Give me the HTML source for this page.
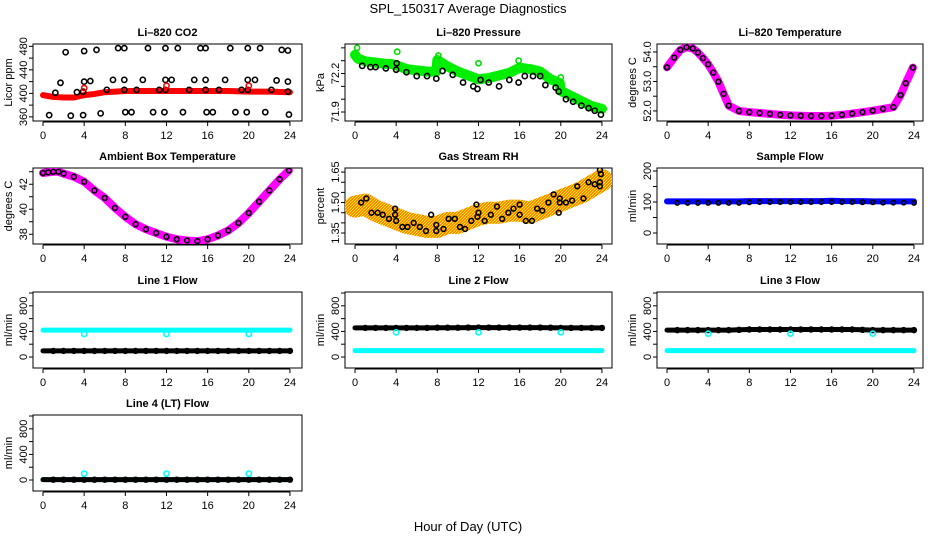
<!DOCTYPE html>
<html><head><meta charset="utf-8"><style>
html,body{margin:0;padding:0;background:#fff;}
svg{display:block;font-family:"Liberation Sans",Arial,sans-serif;}
</style></head><body>
<svg id="chart" width="936" height="540" viewBox="0 0 936 540" xmlns="http://www.w3.org/2000/svg">
<defs><pattern id="rhpat" width="3" height="3" patternUnits="userSpaceOnUse"><rect width="3" height="3" fill="#ff8800"/><rect width="1" height="1" fill="#ffee00"/><rect x="2" y="1" width="1" height="1" fill="#ffee00"/><rect x="1" y="2" width="1" height="1" fill="#ffee00"/></pattern></defs>
<text x="468" y="13" text-anchor="middle" font-size="13">SPL_150317  Average Diagnostics</text>
<text x="468" y="531" text-anchor="middle" font-size="13">Hour of Day (UTC)</text>
</svg>
<script>
// ---- data ----
const xTicks=[0,4,8,12,16,20,24];
const co2BandHours=[0,1,2,3,4,5,6,7,8,10,12,14,16,18,20,22,24];
const co2BandVals=[397,394,393,393,397,399,402,403,404,404,404,404,404,404,403,403,402];
const co2PtHours=[2.2,4.0,5.2,7.3,7.9,10.2,11.9,13.1,15.3,15.8,18.2,19.9,21.1,23.2,23.8,1.7,4.0,4.6,6.8,7.9,9.7,11.9,12.5,14.7,15.8,17.7,19.9,20.6,22.7,23.8,1.2,3.3,3.9,6.2,7.9,9.1,11.3,11.9,14.2,15.8,17.1,19.3,19.9,22.2,23.8,0.6,2.7,3.9,5.6,8.0,8.6,10.7,11.8,13.6,15.9,16.5,18.7,19.8,21.6,23.9];
const co2PtVals=[470,472,474,477,477,477,477,477,477,477,477,477,477,474,473,418,420,421,423,423,423,423,423,423,423,423,423,423,422,420,401,402,403,406,406,406,406,406,406,406,406,406,406,406,403,363,362,363,366,368,368,368,368,368,368,368,368,368,368,364];
const co2RedHours=[4,12,20];
const co2RedVals=[409,413,413];
const presGreenHours=[0,0.3,1,2,3,3.5,4,5,6,7,7.9,8,9,10,11,12,13,14,15,16,17,18,19,19.9,20,21,22,23,24];
const presGreenVals=[72.38,72.35,72.33,72.32,72.31,72.31,72.30,72.27,72.26,72.25,72.25,72.34,72.29,72.25,72.22,72.19,72.20,72.22,72.24,72.28,72.27,72.25,72.19,72.16,72.10,72.06,72.02,71.98,71.96];
const presBlackHours=[0.7,1.5,2,3,4,4.05,5,6,7,7.9,8.5,9.5,10.5,11.5,11.9,12.2,13,14,15,15.9,16.5,17.3,18,18.5,19.5,19.8,20.5,21.2,22,22.7,23.3,23.9];
const presBlackVals=[72.26,72.25,72.25,72.24,72.23,72.28,72.21,72.18,72.18,72.16,72.22,72.19,72.13,72.10,72.08,72.15,72.13,72.10,72.15,72.13,72.18,72.18,72.18,72.11,72.09,72.06,72.00,71.98,71.95,71.93,71.91,71.88];
const presOutHours=[0.2,4.1,8.1,12.0,15.9,20.0];
const presOutVals=[72.40,72.37,72.34,72.28,72.30,72.17];
const ltHours=[0,0.7,1.3,1.9,2.5,3,3.5,4,4.5,5,5.5,6,7,8,9,10,11,12,13,14,15,16,17,18,19,20,21,22,22.7,23.2,23.9];
const ltVals=[53.48,53.81,54.07,54.16,54.12,53.98,53.79,53.58,53.30,52.99,52.58,52.18,52.00,51.96,51.93,51.90,51.87,51.85,51.84,51.83,51.83,51.84,51.87,51.91,51.96,52.01,52.07,52.13,52.54,52.94,53.47];
const abHours=[0,0.5,1,1.5,2,3,4,5,6,7,8,9,10,11,12,13,14,15,16,17,18,19,20,21,22,23,23.9];
const abVals=[42.9,42.95,43.0,43.0,42.85,42.6,42.2,41.5,40.9,40.1,39.4,38.8,38.4,38.1,37.8,37.6,37.5,37.45,37.6,37.9,38.3,38.9,39.7,40.6,41.5,42.4,43.1];
const rhBandHours=[0,1,2,3,4,5,6,7,8,9,10,11,12,13,14,15,16,17,18,19,20,21,22,23,24];
const rhBandVals=[1.48,1.49,1.46,1.44,1.42,1.40,1.39,1.38,1.38,1.40,1.40,1.42,1.44,1.45,1.45,1.46,1.46,1.45,1.47,1.49,1.51,1.53,1.55,1.58,1.61];
const rhPtHours=[0.6,1.1,1.6,2.2,2.7,3.3,3.9,3.9,4.0,4.6,5.1,5.7,6.3,6.9,7.4,7.9,7.9,8.6,9.1,9.7,10.2,10.7,11.3,11.8,11.9,12.0,12.6,13.2,13.8,14.3,14.9,15.4,16.0,16.0,16.6,17.2,17.7,18.2,18.8,19.3,19.8,19.9,19.9,20.5,21.1,21.6,22.2,22.7,23.3,23.8,23.9,23.8,23.8];
const rhPtVals=[1.50,1.52,1.45,1.45,1.44,1.42,1.44,1.47,1.41,1.38,1.38,1.40,1.38,1.36,1.44,1.39,1.36,1.37,1.42,1.42,1.38,1.37,1.41,1.49,1.43,1.45,1.41,1.44,1.48,1.42,1.45,1.47,1.49,1.44,1.41,1.41,1.47,1.46,1.50,1.54,1.45,1.52,1.50,1.50,1.51,1.58,1.52,1.60,1.59,1.66,1.64,1.60,1.58];
const hrs=[0,1,2,3,4,5,6,7,8,9,10,11,12,13,14,15,16,17,18,19,20,21,22,23,24];
const sampleBlue=[102,102,102,102,102,102,102,102,103,103,103,103,103,103,103,103,104,103,103,103,102,102,102,102,102];
const sampleBlack=[98,97,97,97,97,97,97,97,99,100,100,100,100,100,100,100,100,100,100,99,99,98,98,98,97];
const line1Cyan=[420,420,420,420,420,420,420,420,420,420,420,420,420,420,420,420,420,420,420,420,420,420,420,420,420];
const line1Black=[95,95,95,95,95,95,95,95,95,95,95,95,95,95,95,95,95,95,95,95,95,95,95,95,95];
const line2Black=[455,455,455,455,455,455,455,455,458,458,458,460,460,460,460,460,460,460,460,458,455,455,455,455,455];
const line2Cyan=[100,100,100,100,100,100,100,100,100,100,100,100,100,100,100,100,100,100,100,100,100,100,100,100,100];
const line3Black=[420,420,420,420,420,420,420,425,430,430,430,430,430,430,430,430,430,430,430,425,420,420,420,420,420];
const line3Cyan=[100,100,100,100,100,100,100,100,100,100,100,100,100,100,100,100,100,100,100,100,100,100,100,100,100];
const line4Black=[5,5,5,5,5,5,5,5,5,5,5,5,5,5,5,5,5,5,5,5,5,5,5,5,5];
const outlierHours=[4,12,20];
const line1Out=[360,360,360];
const line2Out=[385,385,385];
const line3Out=[365,365,365];
const line4Out=[100,100,100];

// ---- layout ----
const NS='http://www.w3.org/2000/svg';
const svg=document.getElementById('chart');
const cols=[{l:33,r:302,x0:43},{l:345,r:612,x0:355},{l:657,r:923,x0:667}];
const rows=[{t:44,b:121},{t:168,b:244},{t:292,b:368},{t:415,b:491}];
const KX=10.29;
function add(parent,tag,attrs,name,inter){
  const el=document.createElementNS(NS,tag);
  for(const k in attrs) el.setAttribute(k,attrs[k]);
  
  
  parent.appendChild(el);
  return el;
}
function panel(ci,ri,title,ylab,lo,hi,yticks,ylabels,key){
  const c=cols[ci],r=rows[ri];
  const g=add(svg,'g',{},key+'-panel',false);
  const xs=h=>c.x0+h*KX;
  const ys=v=>r.b-(v-lo)/(hi-lo)*(r.b-r.t);
  add(g,'text',{x:(c.l+c.r)/2,y:r.t-8,'text-anchor':'middle','font-size':11,'font-weight':'bold'},key+'-title',false).textContent=title;
  add(g,'rect',{x:c.l,y:r.t,width:c.r-c.l,height:r.b-r.t,fill:'none',stroke:'#000','stroke-width':1},key+'-plot-box',false);
  const ax=add(g,'g',{},key+'-x-axis',false);
  add(ax,'line',{x1:xs(xTicks[0]),x2:xs(xTicks[xTicks.length-1]),y1:r.b+1,y2:r.b+1,stroke:'#000'},key+'-x-axis-line',false);
  xTicks.forEach(t=>{
    add(ax,'line',{x1:xs(t),x2:xs(t),y1:r.b+1,y2:r.b+5,stroke:'#000'},key+'-x-tick',false);
    add(ax,'text',{x:xs(t),y:r.b+18,'text-anchor':'middle','font-size':11},key+'-x-tick-label',false).textContent=t;
  });
  const ay=add(g,'g',{},key+'-y-axis',false);
  add(ay,'line',{x1:c.l,x2:c.l,y1:ys(yticks[0]),y2:ys(yticks[yticks.length-1]),stroke:'#000'},key+'-y-axis-line',false);
  yticks.forEach(t=>add(ay,'line',{x1:c.l-4,x2:c.l,y1:ys(t),y2:ys(t),stroke:'#000'},key+'-y-tick',false));
  ylabels.forEach(t=>{
    const tx=add(ay,'text',{x:0,y:0,'text-anchor':'middle','font-size':11,transform:`translate(${c.l-6},${ys(parseFloat(t))}) rotate(-90)`},key+'-y-tick-label',false);
    tx.textContent=t;
  });
  add(g,'text',{x:0,y:0,'text-anchor':'middle','font-size':11,transform:`translate(${c.l-21},${(r.t+r.b)/2}) rotate(-90)`},key+'-y-axis-title',false).textContent=ylab;
  const clip='clip'+key;
  const cp=add(g,'clipPath',{id:clip},key+'-clip',false);
  add(cp,'rect',{x:c.l,y:r.t,width:c.r-c.l,height:r.b-r.t},key+'-clip-rect',false);
  const marks=add(g,'g',{'clip-path':`url(#${clip})`},key+'-marks',false);
  return {xs,ys,g:marks};
}
function band(p,hs,vs,color,w,name){
  add(p.g,'polyline',{points:hs.map((h,i)=>p.xs(h)+','+p.ys(vs[i])).join(' '),fill:'none',stroke:color,'stroke-width':w,'stroke-linejoin':'round','stroke-linecap':'round'},name,false);
}
function pts(p,hs,vs,color,name,rr){
  hs.forEach((h,i)=>add(p.g,'circle',{cx:p.xs(h),cy:p.ys(vs[i]),r:rr||2.6,fill:'none',stroke:color,'stroke-width':1.6},name,false));
}
function range(a,b,s){const o=[];for(let v=a;v<=b+1e-9;v+=s)o.push(+v.toFixed(3));return o;}

// Row 1
let p=panel(0,0,'Li–820 CO2','Licor ppm',353,484,range(360,480,20),['360','400','440','480'],'co2');
band(p,co2BandHours,co2BandVals,'#ff0000',6,'co2-band');
pts(p,co2PtHours,co2PtVals,'#000','co2-point');
pts(p,co2RedHours,co2RedVals,'#ff0000','co2-red-point');

p=panel(1,0,'Li–820 Pressure','kPa',71.83,72.43,range(71.9,72.4,0.1),['71.9','72.2'],'pressure');
band(p,presGreenHours,presGreenVals.map(v=>v-0.035),'#00ee00',10,'pressure-green-band');
pts(p,presBlackHours,presBlackVals,'#000','pressure-point');
pts(p,presOutHours,presOutVals,'#00dd00','pressure-green-point');

p=panel(2,0,'Li–820 Temperature','degrees C',51.66,54.27,range(52,54,0.5),['52.0','53.0','54.0'],'li-temp');
band(p,ltHours,ltVals,'#ff00ff',8,'li-temp-band');
pts(p,ltHours,ltVals,'#000','li-temp-point',2.4);

// Row 2
p=panel(0,1,'Ambient Box Temperature','degrees C',37.22,43.3,range(38,43,1),['38','40','42'],'ambient');
band(p,abHours,abVals,'#ff00ff',8,'ambient-band');
pts(p,abHours,abVals,'#000','ambient-point',2.4);

p=panel(1,1,'Gas Stream RH','percent',1.296,1.67,range(1.35,1.65,0.05),['1.35','1.50','1.65'],'rh');
band(p,rhBandHours,rhBandVals,'url(#rhpat)',22,'rh-band');
pts(p,rhPtHours,rhPtVals,'#000','rh-point',2.4);

p=panel(2,1,'Sample Flow','ml/min',-35.5,209.7,range(0,200,50),['0','100','200'],'sample-flow');
band(p,hrs,sampleBlue,'#0000ff',6,'sample-flow-band');
pts(p,hrs.slice(1),sampleBlack.slice(1),'#000','sample-flow-point',2.2);

// Rows 3-4
function flowPanel(ci,ri,title,key,bandA,colA,bandB,colB,outVals){
  const q=panel(ci,ri,title,'ml/min',-172,1016,range(0,1000,200),['0','400','800'],key);
  band(q,hrs,bandA,colA,5,key+'-band-a');
  band(q,hrs,bandB,colB,5,key+'-band-b');
  if(colA==='#000') pts(q,hrs.slice(1),bandA.slice(1),'#000',key+'-point',2.4);
  if(colB==='#000') pts(q,hrs.slice(1),bandB.slice(1),'#000',key+'-point',2.4);
  pts(q,outlierHours,outVals,'#00ffff',key+'-outlier');
}
flowPanel(0,2,'Line 1 Flow','line1',line1Cyan,'#00ffff',line1Black,'#000',line1Out);
flowPanel(1,2,'Line 2 Flow','line2',line2Cyan,'#00ffff',line2Black,'#000',line2Out);
flowPanel(2,2,'Line 3 Flow','line3',line3Cyan,'#00ffff',line3Black,'#000',line3Out);
flowPanel(0,3,'Line 4 (LT) Flow','line4',line4Black,'#00ffff',line4Black,'#000',line4Out);
</script>
</body></html>
